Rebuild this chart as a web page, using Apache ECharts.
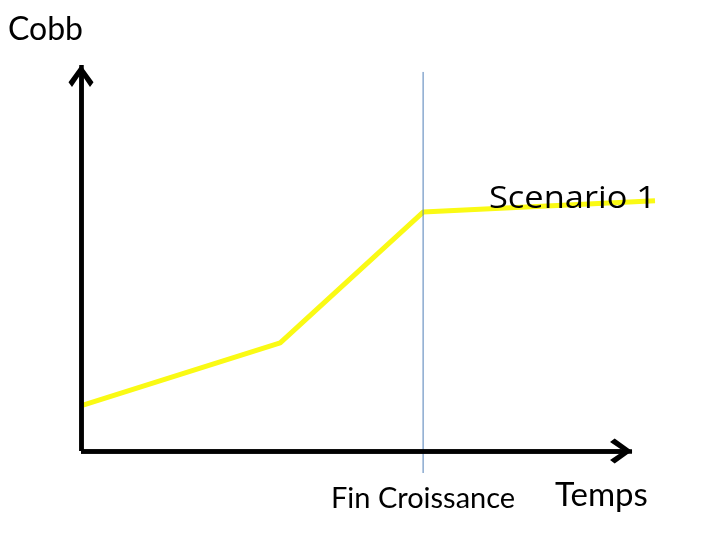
<!DOCTYPE html>
<html>
<head>
<meta charset="utf-8">
<script src="https://cdn.jsdelivr.net/npm/echarts@6/dist/echarts.min.js"></script>
<style>html,body{margin:0;padding:0;background:#fff;}#c{width:720px;height:540px;}</style>
</head>
<body>
<div id="c"></div>
<script>
// Data (abstract units: x 0-100 time, y 0-100 Cobb)
var scenarioX = [0.35, 34.7, 59.6, 100];
var scenarioY = [11.9, 28.0, 61.9, 64.8];
var finCroissanceX = 59.6;
var finCroissanceYRange = [-5.7, 98.2];
var axisArrowEnds = { x: 96.0, y: 100 };
var labels = { y: 'Cobb', x: 'Temps', marker: 'Fin Croissance', series: 'Scenario 1' };

var chart = echarts.init(document.getElementById('c'), null, { renderer: 'canvas' });
var font = 'Lato, "Open Sans", sans-serif';
var chevron = 'path://M12.5 0 L25 15 L21.5 19 L12.5 7.5 L3.5 19 L0 15 Z';
// offset (in axis units) of the arrow-symbol centre behind the apex (~11px)
var xSym = axisArrowEnds.x - 11 / 574 * 100;
var ySym = axisArrowEnds.y - 11 / 386 * 100;

chart.setOption({
  animation: false,
  backgroundColor: '#ffffff',
  grid: { left: 81, right: 65, top: 65, bottom: 89 },
  xAxis: {
    type: 'value', min: 0, max: 100,
    axisLine: { show: false }, axisTick: { show: false }, axisLabel: { show: false }, splitLine: { show: false }
  },
  yAxis: {
    type: 'value', min: 0, max: 100,
    axisLine: { show: false }, axisTick: { show: false }, axisLabel: { show: false }, splitLine: { show: false }
  },
  series: [
    {
      type: 'line', clip: false, symbol: 'none', z: 3,
      data: scenarioX.map(function (x, i) { return [x, scenarioY[i]]; }),
      lineStyle: { color: '#fafa14', width: 5 }
    },
    {
      type: 'line', clip: false, symbol: 'none', z: 4,
      data: [[finCroissanceX, finCroissanceYRange[0]], [finCroissanceX, finCroissanceYRange[1]]],
      lineStyle: { color: '#4f7fb8', width: 1 }
    },
    {
      type: 'line', data: [], z: 5,
      markLine: {
        silent: true, animation: false,
        symbol: ['none', 'none'],
        label: { show: false },
        lineStyle: { color: '#000', width: 4.5, type: 'solid' },
        emphasis: { disabled: true },
        data: [
          [{ coord: [0, 0] }, { coord: [axisArrowEnds.x, 0] }],
          [{ coord: [0, 0] }, { coord: [0, axisArrowEnds.y] }],
          [{ coord: [0, 0], symbol: 'none' }, { coord: [xSym, 0], symbol: chevron, symbolSize: [25, 22] }],
          [{ coord: [0, 0], symbol: 'none' }, { coord: [0, ySym], symbol: chevron, symbolSize: [25, 22] }]
        ]
      }
    }
  ],
  graphic: [
    { type: 'text', z: 100, left: 8, top: 14, style: { text: labels.y, font: '32px ' + font, fill: '#000' } },
    { type: 'text', z: 100, left: 555, top: 479, style: { text: labels.x, font: '33px ' + font, fill: '#000' } },
    { type: 'text', z: 100, left: 331, top: 484, style: { text: labels.marker, font: '29px ' + font, fill: '#000' } },
    { type: 'text', z: 100, x: 489, y: 184, scaleX: 1.11, style: { text: labels.series, font: '31px "Open Sans", sans-serif', fill: '#000' } }
  ]
});
</script>
</body>
</html>
